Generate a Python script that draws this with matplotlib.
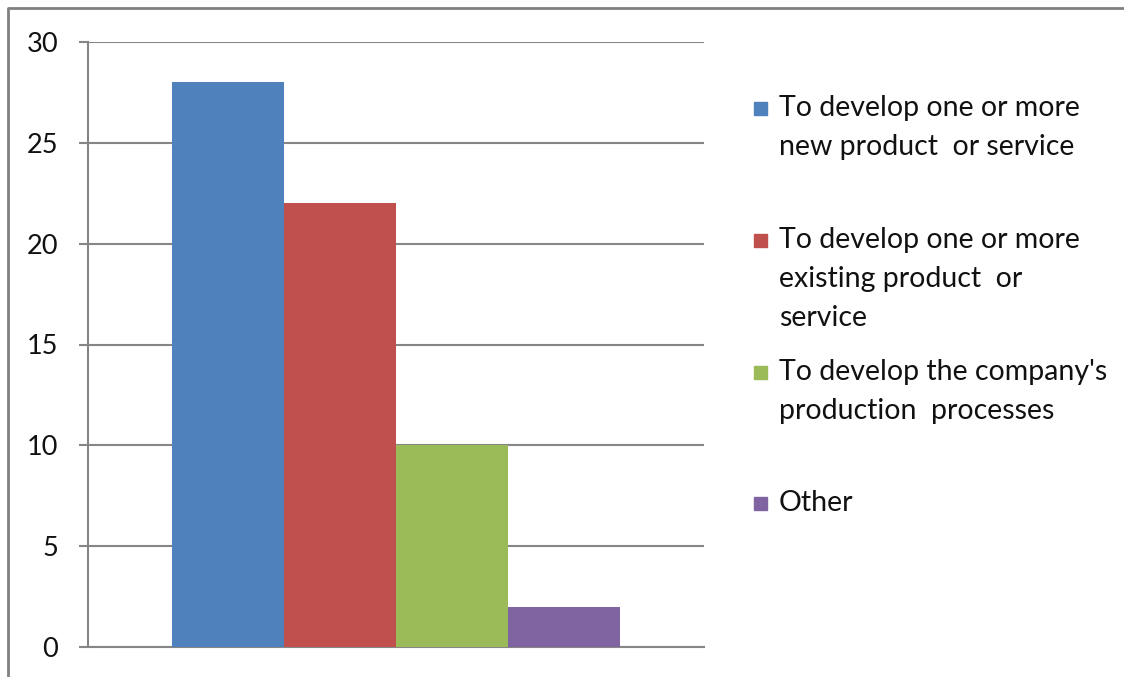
import numpy as np
import matplotlib.pyplot as plt
from matplotlib.lines import Line2D
from matplotlib.patches import Rectangle

# values
SERIES = [
    "To develop one or more\nnew product  or service",
    "To develop one or more\nexisting product  or\nservice",
    "To develop the company's\nproduction  processes",
    "Other",
]
VALUES = [28, 22, 10, 2]
COLORS = ["#4F81BD", "#C0504D", "#9BBB59", "#8064A2"]
YTICKS = [0, 5, 10, 15, 20, 25, 30]

plt.rcParams["font.family"] = ["Lato", "DejaVu Sans"]

W, H = 1124, 677
fig = plt.figure(figsize=(W / 100, H / 100), dpi=100)
ax = fig.add_axes([88 / W, 1 - 647 / H, (704 - 88) / W, (647 - 42) / H])

grey = "#868686"
n = len(VALUES)
group = 0.727
width = group / n
offsets = (np.arange(n) - (n - 1) / 2) * width
for off, v, c in zip(offsets, VALUES, COLORS):
    ax.bar(off, v, width, color=c, zorder=3)

ax.set_xlim(-0.5, 0.5)
ax.set_ylim(0, 30)
ax.set_yticks(YTICKS)
ax.set_xticks([])
ax.tick_params(axis="y", length=6.5, width=1.5, color=grey, pad=15,
               labelsize=19.5, labelcolor="#111111")
ax.grid(axis="y", color=grey, linewidth=1.5, zorder=0)
for s in ("top", "right"):
    ax.spines[s].set_visible(False)
for s in ("left", "bottom"):
    ax.spines[s].set_color(grey)
    ax.spines[s].set_linewidth(1.5)

# legend drawn by hand: markers evenly spaced, text top-aligned to marker
marker_y = [108, 240, 372, 503]
for lab, c, y in zip(SERIES, COLORS, marker_y):
    fig.patches.append(Rectangle((754 / W, 1 - (y + 7) / H), 13 / W, 13 / H,
                                 transform=fig.transFigure, color=c))
    fig.text(779 / W, 1 - (y - 13) / H, lab, ha="left", va="top",
             fontsize=20.5, color="#111111", linespacing=1.61)

# outer frame: only the left and top edges fall inside the image
fx, fy = 7.5 / W, 1 - 7.5 / H
fig.add_artist(Line2D([fx, fx, 1.0], [0.0, fy, fy], transform=fig.transFigure,
                      color="#808080", linewidth=2))

fig.savefig("out.png", dpi=100)
